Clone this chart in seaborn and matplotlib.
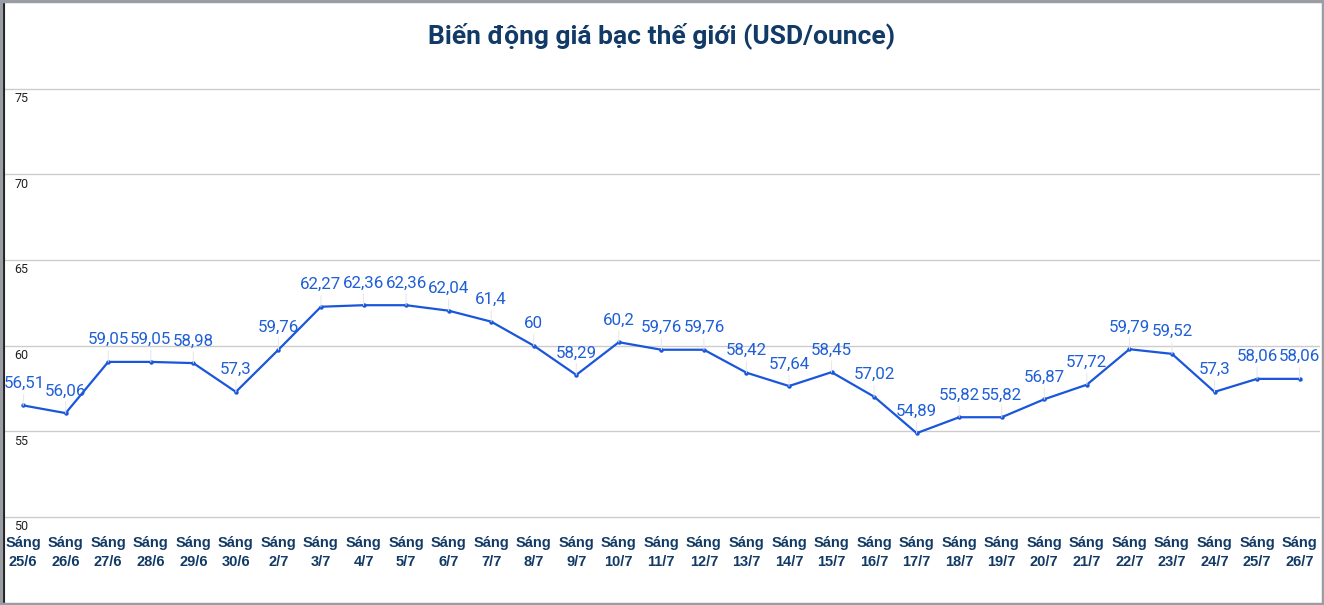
import matplotlib
matplotlib.use("Agg")
import numpy as np
import pandas as pd
import matplotlib.pyplot as plt
import seaborn as sns
from matplotlib.ticker import MultipleLocator
from matplotlib.lines import Line2D
from matplotlib.transforms import ScaledTranslation

sns.set_theme(style="white")
plt.rcParams['font.family'] = ['Roboto', 'DejaVu Sans']

# Data
days = ["25/6", "26/6", "27/6", "28/6", "29/6", "30/6", "2/7", "3/7", "4/7", "5/7",
        "6/7", "7/7", "8/7", "9/7", "10/7", "11/7", "12/7", "13/7", "14/7", "15/7",
        "16/7", "17/7", "18/7", "19/7", "20/7", "21/7", "22/7", "23/7", "24/7", "25/7", "26/7"]
prices = [56.51, 56.06, 59.05, 59.05, 58.98, 57.3, 59.76, 62.27, 62.36, 62.36,
          62.04, 61.4, 60, 58.29, 60.2, 59.76, 59.76, 58.42, 57.64, 58.45,
          57.02, 54.89, 55.82, 55.82, 56.87, 57.72, 59.79, 59.52, 57.3, 58.06, 58.06]
y_ticks = [50, 55, 60, 65, 70, 75]
tick_labels = ["Sáng\n" + d for d in days]
title = "Biến động giá bạc thế giới (USD/ounce)"

line_color = "#1a56db"
label_color = "#1f5fd6"
navy = "#123a66"

df = pd.DataFrame({"idx": range(len(prices)), "price": prices})

fig = plt.figure(figsize=(13.24, 6.05), dpi=100)
ax = fig.add_axes([0.003, 0.004, 0.994, 0.991])

sns.lineplot(data=df, x="idx", y="price", ax=ax, color=line_color, linewidth=1.6,
             marker="o", markersize=3.2, markeredgewidth=0, zorder=3)

ax.set_xlim(-0.45, len(prices) - 0.52)
ax.set_ylim(45, 80)
ax.yaxis.set_minor_locator(MultipleLocator(5 / 3))
ax.set_yticks(y_ticks)
ax.grid(axis="y", which="major", color="#cccccc", linewidth=1)
ax.set_xlabel("")
ax.set_ylabel("")

# y tick labels sit inside the plot, below the gridlines
ax.tick_params(axis="y", which="major", direction="in", length=6, width=1,
               color="#222222", labelsize=9, pad=-7.5, labelcolor="#222222")
ax.tick_params(axis="y", which="minor", direction="in", length=4, width=1, color="#222222")
ax.set_yticklabels([str(v) for v in y_ticks], va="top", ha="left")
for lbl in ax.get_yticklabels():
    lbl.set_transform(lbl.get_transform() + ScaledTranslation(0, -2.5 / 72, fig.dpi_scale_trans))

# x tick labels sit inside the plot, above the bottom edge
ax.set_xticks(df["idx"])
ax.set_xticklabels(tick_labels, fontsize=10.5, fontweight="bold", color=navy,
                   family=["Arial", "Liberation Sans", "DejaVu Sans"], linespacing=1.45)
ax.tick_params(axis="x", direction="in", length=3, width=1, color="#555555", pad=-48)
for lbl in ax.get_xticklabels():
    lbl.set_verticalalignment("top")

for s in ["top", "right", "bottom"]:
    ax.spines[s].set_visible(False)
ax.spines["left"].set_color("#222222")
ax.spines["left"].set_linewidth(1.5)

# data labels with faint leader lines
for i, v in zip(df["idx"], df["price"]):
    txt = f"{v:g}".replace(".", ",")
    ha = "center"
    dx = 0
    if i == 0:
        ha, dx = "left", -14
    ax.annotate(txt, xy=(i, v), xytext=(dx, 10.5), textcoords="offset points",
                ha=ha, va="bottom", fontsize=12.2, color=label_color,
                arrowprops=dict(arrowstyle="-", color="#e6e6e6", lw=0.7,
                                shrinkA=0, shrinkB=0), zorder=4)

ax.text(0.5, 0.946, title, transform=ax.transAxes, ha="center", va="center",
        fontsize=19, fontweight="bold", color=navy)

# outer gray frame
for xs, ys, lw in [([0, 1], [0.999, 0.999], 2.5), ([0.001, 0.001], [0, 1], 3),
                   ([0.999, 0.999], [0, 1], 2.5), ([0, 1], [0.001, 0.001], 2.5)]:
    fig.add_artist(Line2D(xs, ys, transform=fig.transFigure, color="#9a9ea4", lw=lw))

fig.savefig("out.png", dpi=100)
